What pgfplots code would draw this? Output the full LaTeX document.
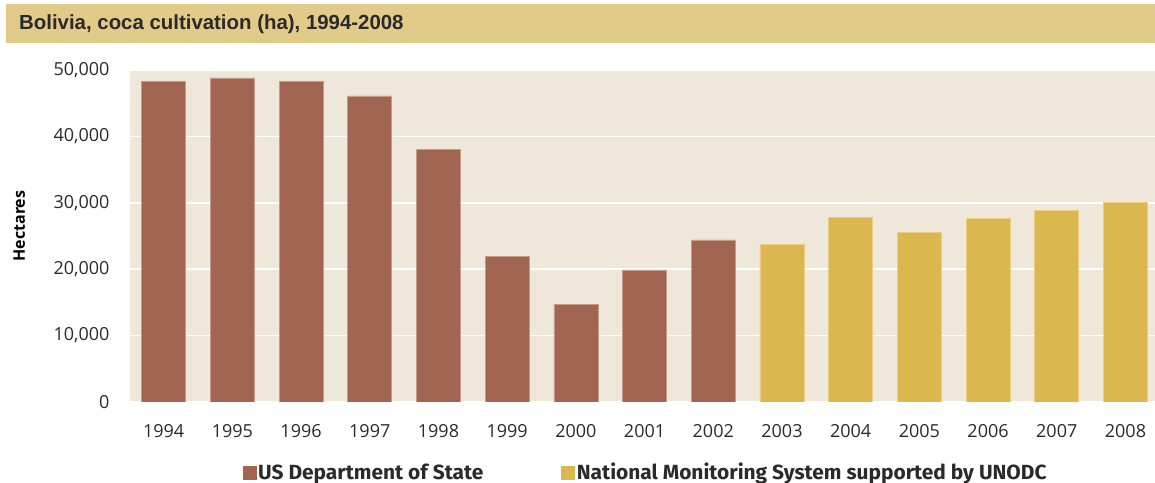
\documentclass[border=0pt]{standalone}
\usepackage{fontspec}
\usepackage{pgfplots}
\pgfplotsset{compat=1.18}
\setmainfont{Open Sans}
\newfontfamily\titlefont{Liberation Sans}
\newfontfamily\legfont[FakeStretch=1.02]{Fira Sans}
\definecolor{brownc}{HTML}{A16552}
\definecolor{brownedge}{HTML}{C49C8E}
\definecolor{goldc}{HTML}{DCB64F}
\definecolor{goldedge}{HTML}{E9CE84}
\definecolor{bgc}{HTML}{EFE7D9}
\definecolor{titlec}{HTML}{E2CA88}
\definecolor{textc}{HTML}{2A2A2A}
\begin{document}
\begin{tikzpicture}
\path[use as bounding box] (0,0) rectangle (1155bp,483bp);
\fill[titlec] (6bp,440bp) rectangle (1155bp,479bp);
\node[anchor=west, inner sep=0pt, text=textc, font=\titlefont\bfseries\fontsize{20.4bp}{24bp}\selectfont] at (19bp,459bp) {Bolivia, coca cultivation (ha), 1994-2008};
\begin{axis}[
  at={(130bp,81bp)}, anchor=south west,
  scale only axis, width=1025bp, height=332bp,
  xmin=-0.49, xmax=14.43, ymin=0, ymax=50000,
  ybar, bar width=44bp, /pgf/bar shift=0pt,
  axis background/.style={fill=bgc},
  axis line style={draw=none},
  major tick style={draw=none}, minor tick style={draw=none},
  ymajorgrids, grid style={white, line width=1.6bp},
  ytick={0,10000,20000,30000,40000,50000},
  xtick={0,...,14},
  xticklabels={1994,1995,1996,1997,1998,1999,2000,2001,2002,2003,2004,2005,2006,2007,2008},
  scaled y ticks=false,
  /pgf/number format/.cd, 1000 sep={,}, assume math mode=true, /pgfplots/.cd,
  ticklabel style={font=\fontsize{18bp}{21bp}\selectfont, text=textc},
  yticklabel style={xshift=-17bp},
  xticklabel style={yshift=-15bp},
  ylabel={Hectares},
  ylabel style={at={(axis description cs:-0.108,0.53)}, anchor=center, font=\bfseries\fontsize{16bp}{19bp}\selectfont, text=black},
  legend columns=2,
  legend style={at={(axis description cs:0.503,-0.211)}, anchor=center, draw=none, fill=none,
    font=\legfont\bfseries\fontsize{20.5bp}{24bp}\selectfont, text=textc,
    /tikz/every even column/.append style={column sep=76bp}},
  legend cell align=left,
]
\addplot[ybar, fill=brownc, draw=brownedge, line width=0.6bp,
  legend image code/.code={\fill[brownc] (0bp,-7bp) rectangle (13bp,6bp);}]
  coordinates {(0,48300) (1,48800) (2,48300) (3,46100) (4,38100) (5,21900) (6,14700) (7,19900) (8,24400)};
\addlegendentry{US Department of State}
\addplot[ybar, fill=goldc, draw=goldedge, line width=0.6bp,
  legend image code/.code={\fill[goldc] (0bp,-7bp) rectangle (13bp,6bp);}]
  coordinates {(9,23700) (10,27800) (11,25500) (12,27600) (13,28900) (14,30100)};
\addlegendentry{National Monitoring System supported by UNODC}
\end{axis}
\end{tikzpicture}
\end{document}
